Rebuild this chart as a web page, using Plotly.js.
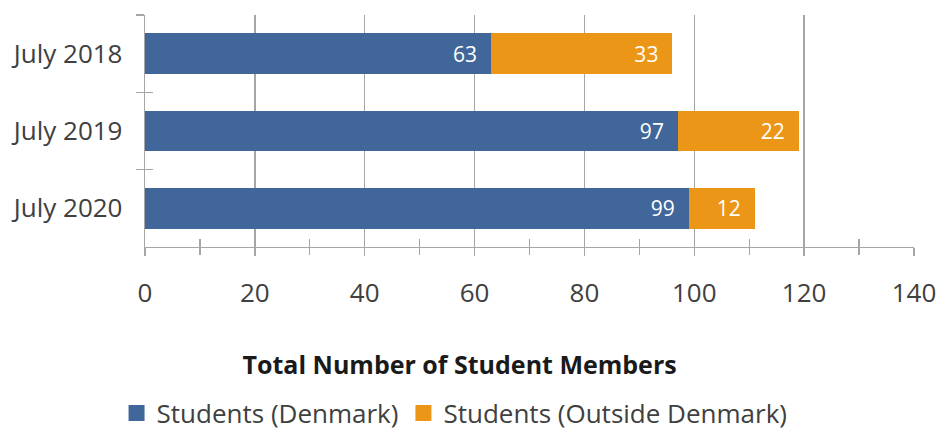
<!DOCTYPE html>
<html>
<head>
<meta charset="utf-8">
<script src="https://cdn.plot.ly/plotly-3.0.1.min.js"></script>
<style>html,body{margin:0;padding:0;background:#fff;}#chart{width:938px;height:430px;}</style>
</head>
<body>
<div id="chart"></div>
<script>
const categories = ["July 2018", "July 2019", "July 2020"];
const denmark = [63, 97, 99];
const outsideDenmark = [33, 22, 12];
const seriesNames = ["Students (Denmark)", "Students (Outside Denmark)"];
const seriesColors = ["#40669a", "#eb9617"];
const chartTitle = "Total Number of Student Members";

const FONT = "Open Sans, Noto Sans, sans-serif";
const GRID = "#a6a6a6";
const PAD = "\u00a0\u00a0";

function barTrace(name, vals, color) {
  return {
    type: "bar", orientation: "h", name: name,
    y: categories, x: vals,
    marker: {color: color},
    text: vals.map(v => String(v) + PAD), textposition: "inside", insidetextanchor: "end",
    textfont: {color: "#ffffff", size: 21, family: FONT},
    showlegend: false, hoverinfo: "x+y"
  };
}
function legendProxy(name, color) {
  return {
    type: "scatter", mode: "markers", name: name, x: [null], y: [null],
    marker: {symbol: "square", size: 16, color: color},
    showlegend: true, hoverinfo: "skip"
  };
}

const traces = [
  barTrace(seriesNames[0], denmark, seriesColors[0]),
  barTrace(seriesNames[1], outsideDenmark, seriesColors[1]),
  legendProxy(seriesNames[0], seriesColors[0]),
  legendProxy(seriesNames[1], seriesColors[1]),
  {type: "scatter", x: [], y: [], xaxis: "x2", yaxis: "y", showlegend: false, hoverinfo: "skip"},
  {type: "scatter", x: [], y: [], xaxis: "x", yaxis: "y2", showlegend: false, hoverinfo: "skip"}
];

const layout = {
  width: 938, height: 430,
  margin: {l: 145, r: 24, t: 15, b: 183, autoexpand: false},
  paper_bgcolor: "#ffffff", plot_bgcolor: "#ffffff",
  barmode: "stack", bargap: 0.47,
  font: {family: FONT, color: "#404040", size: 20},
  showlegend: true,
  legend: {
    orientation: "h", x: -0.037, xanchor: "left", y: -0.716, yanchor: "middle",
    font: {size: 26, color: "#404040", family: FONT},
    itemwidth: 30, tracegroupgap: 0, traceorder: "normal", itemsizing: "trace"
  },
  title: {
    text: "<b>" + chartTitle + "</b>",
    xref: "container", x: 0.49, xanchor: "center",
    yref: "container", y: 0.151, yanchor: "middle",
    font: {size: 25, color: "#1a1a1a", family: FONT}
  },
  xaxis: {
    range: [0, 140], dtick: 20, tick0: 0,
    showgrid: true, gridcolor: GRID, gridwidth: 1.3,
    zeroline: false, showline: true, linecolor: GRID, linewidth: 1.3,
    ticks: "outside", ticklen: 8, tickcolor: GRID, tickwidth: 1.3,
    minor: {dtick: 10, tick0: 0, ticks: "outside", ticklen: 7, tickcolor: GRID, tickwidth: 1.3, showgrid: false},
    tickfont: {size: 26, color: "#404040", family: FONT},
    ticklabelstandoff: 14, fixedrange: true, automargin: false
  },
  xaxis2: {
    range: [0, 140], dtick: 10, tick0: 0, overlaying: "x", anchor: "y", side: "bottom",
    showgrid: false, zeroline: false, showline: false, showticklabels: false,
    ticks: "inside", ticklen: 8, tickcolor: GRID, tickwidth: 1.3, fixedrange: true
  },
  yaxis: {
    type: "category", autorange: "reversed",
    showgrid: false, zeroline: false, showline: true, linecolor: GRID, linewidth: 1.3,
    ticks: "outside", ticklen: 8, tickcolor: GRID, tickwidth: 1.3, tickson: "boundaries",
    tickfont: {size: 26, color: "#404040", family: FONT},
    ticklabelstandoff: 16, fixedrange: true, automargin: false
  },
  yaxis2: {
    range: [0, 3], dtick: 1, tick0: 0, overlaying: "y", anchor: "x", side: "left",
    showgrid: false, zeroline: false, showline: false, showticklabels: false,
    ticks: "inside", ticklen: 8, tickcolor: GRID, tickwidth: 1.3, fixedrange: true
  }
};

Plotly.newPlot("chart", traces, layout, {displayModeBar: false, staticPlot: true});
</script>
</body>
</html>
